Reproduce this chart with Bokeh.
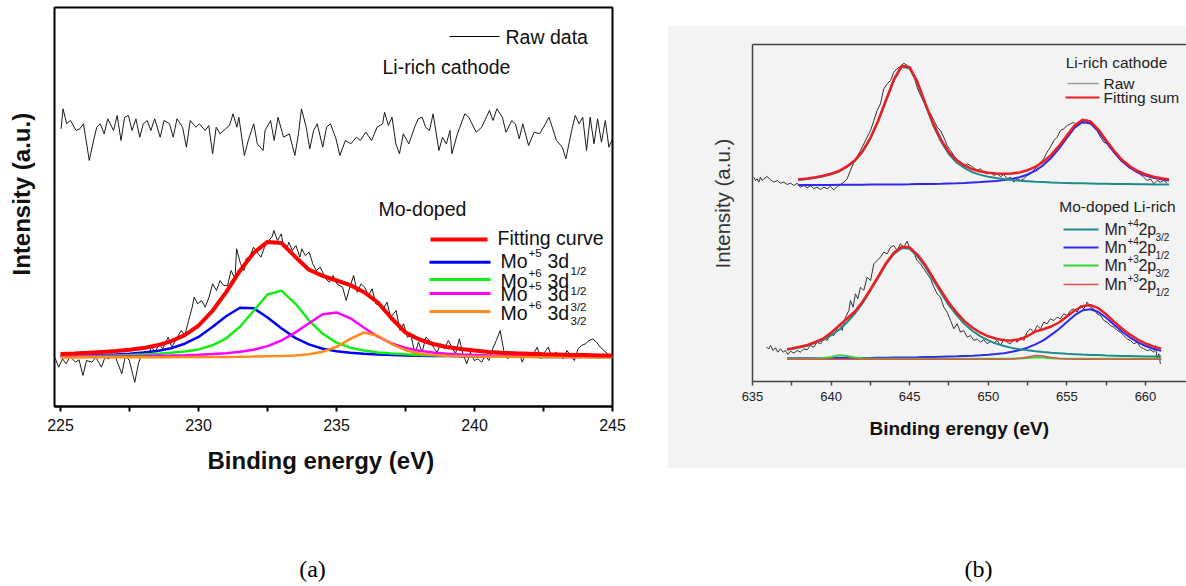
import math
from bokeh.plotting import figure
from bokeh.models import Range1d, FixedTicker, Label, LinearAxis, Spacer, Title
from bokeh.layouts import row, column
from bokeh.embed import file_html
from bokeh.resources import INLINE

# ---------------- Panel (a): Mo 3d ----------------
A_TICKS = [225, 230, 235, 240, 245]
A_MINOR = [227.5, 232.5, 237.5, 242.5]

A_RAW_TOP = [(225.02, 277.7), (225.09, 297.7), (225.22, 282.7), (225.36, 286), (225.56, 276), (225.70, 277.7),
             (225.83, 282.7), (226.04, 246), (226.17, 262.7), (226.31, 279.3), (226.44, 282.7), (226.58, 272.7),
             (226.71, 287.7), (226.92, 276), (227.05, 291), (227.19, 266), (227.32, 289.3), (227.46, 291),
             (227.59, 276), (227.73, 287.7), (227.87, 269.3), (228.00, 282.7), (228.14, 286), (228.27, 276),
             (228.41, 287.7), (228.61, 269.3), (228.75, 286), (228.95, 282.7), (229.08, 269.3), (229.22, 287.7),
             (229.42, 279.3), (229.56, 259.3), (229.70, 286), (229.90, 279.3), (230.03, 282.7), (230.24, 276),
             (230.37, 281), (230.51, 252.7), (230.64, 279.3), (230.78, 272.7), (230.98, 277.7), (231.12, 281),
             (231.25, 292.7), (231.39, 279.3), (231.46, 289.3), (231.66, 251), (231.80, 266), (232.00, 282.7),
             (232.13, 262.7), (232.34, 256), (232.41, 276), (232.61, 286), (232.74, 266), (232.88, 289.3),
             (233.08, 269.3), (233.29, 272.7), (233.49, 251), (233.62, 272.7), (233.73, 297.7), (233.90, 279.3),
             (234.03, 257.7), (234.17, 276), (234.30, 282.7), (234.50, 259.3), (234.64, 279.3), (234.78, 282.7),
             (234.98, 267.7), (235.12, 251), (235.32, 266), (235.52, 262.7), (235.72, 269.3), (235.86, 266),
             (236.06, 274.3), (236.27, 266), (236.47, 279.3), (236.67, 282.7), (236.74, 294.3), (236.88, 281),
             (237.01, 289.3), (237.15, 262.7), (237.28, 252.7), (237.42, 272.7), (237.62, 262.7), (237.83, 279.3),
             (237.96, 287.7), (238.10, 289.3), (238.23, 279.3), (238.37, 276), (238.50, 292.7), (238.71, 256),
             (238.84, 269.3), (238.98, 262.7), (239.11, 276), (239.18, 252.7), (239.38, 272.7), (239.65, 292.7),
             (239.79, 289.3), (240.06, 274.3), (240.26, 279.3), (240.54, 296), (240.67, 286), (240.81, 297.7),
             (241.01, 289.3), (241.14, 274.3), (241.35, 286), (241.48, 282.7), (241.62, 267.7), (241.75, 282.7),
             (241.96, 261), (242.16, 274.3), (242.36, 272.7), (242.57, 282.7), (242.70, 289.3), (242.97, 266),
             (243.18, 259.3), (243.31, 247.7), (243.52, 276), (243.65, 291), (243.79, 282.7), (243.92, 289.3),
             (244.06, 256), (244.19, 289.3), (244.33, 262.7), (244.46, 287.7), (244.60, 264.3), (244.74, 286),
             (244.87, 259.3), (245.00, 268)]

A_RAW_BOT = [(224.80, 48.7), (224.93, 39.3), (225.07, 47.7), (225.20, 42.7), (225.34, 50.0), (225.54, 44.3),
             (225.67, 46.7), (225.81, 31.0), (225.94, 46.0), (226.14, 44.3), (226.28, 49.3), (226.48, 39.3),
             (226.61, 49.3), (226.75, 47.7), (226.95, 52.7), (227.08, 42.7), (227.22, 32.7), (227.35, 51.0),
             (227.49, 46.0), (227.69, 24.3), (227.82, 42.7), (227.96, 54.3), (228.16, 49.3), (228.29, 59.3),
             (228.43, 54.3), (228.56, 62.7), (228.70, 57.7), (228.90, 69.3), (229.03, 59.3), (229.23, 69.3),
             (229.37, 76.0), (229.50, 71.0), (229.64, 86.0), (229.77, 99.3), (229.84, 109.3), (229.97, 102.7),
             (230.11, 106.0), (230.24, 99.3), (230.38, 109.3), (230.51, 122.7), (230.65, 116.0), (230.78, 126.0),
             (230.91, 121.0), (231.05, 121.0), (231.18, 136.0), (231.32, 127.7), (231.38, 157.7), (231.52, 142.7),
             (231.65, 136.0), (231.72, 147.7), (231.85, 149.3), (231.99, 159.3), (232.12, 154.3), (232.26, 149.3),
             (232.39, 159.3), (232.53, 166.0), (232.66, 169.3), (232.73, 176.0), (232.86, 166.0), (233.00, 172.7),
             (233.06, 162.7), (233.20, 157.7), (233.27, 164.3), (233.40, 156.0), (233.53, 161.0), (233.67, 149.3),
             (233.74, 157.7), (233.87, 151.0), (234.01, 154.3), (234.14, 142.7), (234.27, 136.0), (234.41, 139.3),
             (234.61, 127.7), (234.74, 124.3), (234.88, 131.0), (235.01, 122.7), (235.22, 119.3), (235.35, 106.0),
             (235.48, 119.3), (235.62, 131.0), (235.75, 114.3), (235.89, 122.7), (236.02, 119.3), (236.16, 111.0),
             (236.29, 117.7), (236.42, 102.7), (236.56, 101.0), (236.69, 97.7), (236.83, 104.3), (236.96, 89.3),
             (237.16, 96.0), (237.30, 76.0), (237.43, 82.7), (237.57, 69.3), (237.70, 71.0), (237.84, 52.7),
             (237.97, 64.3), (238.10, 54.3), (238.24, 69.3), (238.37, 66.0), (238.51, 59.3), (238.64, 54.3),
             (238.78, 62.7), (238.91, 57.7), (239.05, 66.0), (239.18, 59.3), (239.31, 52.7), (239.45, 67.7),
             (239.58, 52.7), (239.72, 42.7), (239.85, 54.3), (239.99, 46.0), (240.12, 47.7), (240.26, 44.3),
             (240.39, 51.0), (240.52, 46.0), (240.66, 57.7), (240.79, 66.0), (240.93, 76.0), (241.06, 56.0),
             (241.20, 47.7), (241.33, 52.7), (241.46, 51.0), (241.60, 54.3), (241.73, 44.3), (241.87, 54.3),
             (242.00, 51.0), (242.14, 52.7), (242.27, 59.3), (242.41, 47.7), (242.54, 54.3), (242.67, 59.3),
             (242.81, 49.3), (242.94, 54.3), (243.08, 51.0), (243.21, 47.7), (243.35, 56.0), (243.48, 51.0),
             (243.62, 46.0), (243.75, 57.7), (243.88, 61.0), (244.02, 62.7), (244.15, 66.0), (244.29, 67.7),
             (244.42, 64.3), (244.56, 59.3), (244.69, 56.0), (244.83, 52.7)]

A_FIT_E = [225.0, 225.5, 226.0, 226.5, 227.0, 227.5, 228.0, 228.5, 229.0, 229.5,
           230.0, 230.5, 231.0, 231.5, 232.0, 232.5, 233.0, 233.5, 234.0, 234.5,
           235.0, 235.5, 236.0, 236.5, 237.0, 237.5, 238.0, 238.5, 239.0, 239.5,
           240.0, 240.5, 241.0, 241.5, 242.0, 242.5, 243.0, 243.5, 244.0, 244.5, 245.0]
A_FIT_SUM = [52.6, 53.1, 53.8, 54.6, 55.4, 56.7, 58.4, 61.2, 65.2, 71.4,
             80.9, 95.5, 114.4, 135.8, 153.7, 164.6, 163.6, 149.8, 136.8, 130.6,
             126.0, 121.4, 114.3, 104.0, 88.0, 74.0, 67.0, 62.5, 59.5, 57.5,
             56.0, 54.6, 53.8, 53.2, 52.7, 52.2, 51.9, 51.5, 51.4, 51.1, 50.9]
A_MO5_A = [50.6, 50.8, 51.1, 51.6, 52.1, 52.8, 53.9, 55.6, 58.2, 62.8,
           69.6, 79.4, 90.3, 98.7, 98.3, 89.0, 78.2, 68.6, 62.1, 57.8,
           55.3, 53.8, 52.7, 52.0, 51.5, 51.1, 50.8, 50.6, 50.4, 50.2,
           50.1, 50.0, 49.9, 49.8, 49.7, 49.6, 49.6, 49.5, 49.5, 49.4, 49.4]
A_MO6_A = [50.2, 50.4, 50.6, 50.8, 51.0, 51.4, 51.9, 52.6, 53.8, 54.9,
           57.1, 61.2, 68.2, 79.7, 95.7, 112.0, 115.9, 103.2, 86.2, 72.7,
           63.9, 58.8, 55.9, 54.1, 53.0, 52.2, 51.6, 51.2, 50.9, 50.7,
           50.5, 50.3, 50.2, 50.1, 50.0, 49.9, 49.8, 49.7, 49.7, 49.6, 49.6]
A_MO5_B = [49.7, 49.8, 49.9, 50.0, 50.1, 50.3, 50.4, 50.7, 50.9, 51.3,
           51.8, 52.4, 53.3, 54.7, 56.8, 60.4, 66.0, 73.9, 83.2, 92.3,
           94.1, 88.2, 78.7, 69.8, 63.0, 58.5, 55.7, 53.9, 52.8, 52.0,
           51.5, 51.0, 50.8, 50.6, 50.4, 50.2, 50.1, 50.0, 49.9, 49.8, 49.7]
A_MO6_B = [49.1, 49.1, 49.2, 49.2, 49.2, 49.2, 49.2, 49.3, 49.3, 49.4,
           49.4, 49.5, 49.6, 49.7, 49.9, 50.2, 50.5, 51.1, 52.3, 54.8,
           59.7, 67.6, 74.0, 70.7, 62.3, 56.3, 53.0, 51.5, 50.7, 50.3,
           50.0, 49.8, 49.7, 49.6, 49.5, 49.4, 49.4, 49.3, 49.3, 49.3, 49.2]

# ---------------- Panel (b): Mn 2p ----------------
B_TICKS = [635, 640, 645, 650, 655, 660]
B_MINOR = [637.5, 642.5, 647.5, 652.5, 657.5]

B_RAW_TOP = [(635.08, 204.3), (635.19, 201), (635.30, 202.7), (635.40, 199.3), (635.51, 204.3), (635.62, 201),
             (635.72, 202.7), (635.93, 205), (636.15, 201.7), (636.36, 199.3), (636.57, 201), (636.78, 198.3),
             (636.99, 199.3), (637.21, 197), (637.42, 198.3), (637.63, 196), (637.84, 198.3), (638.05, 194.3),
             (638.27, 196), (638.48, 193.7), (638.69, 195.7), (638.90, 193), (639.11, 194.3), (639.33, 192),
             (639.54, 194.3), (639.75, 192.7), (639.96, 195), (640.17, 191.7), (640.39, 195), (640.60, 197),
             (640.81, 199.3), (641.02, 202.7), (641.23, 211), (641.45, 219.3), (641.66, 225), (641.87, 231),
             (642.08, 237.7), (642.29, 244.3), (642.51, 251), (642.72, 261), (642.93, 271), (643.14, 277.7),
             (643.35, 292.7), (643.57, 297.7), (643.78, 301), (643.99, 309.3), (644.20, 312.7), (644.41, 315),
             (644.63, 318.3), (644.84, 316), (645.05, 311), (645.26, 306), (645.47, 294.3), (645.69, 286),
             (645.90, 279.3), (646.11, 272.7), (646.33, 267.7), (646.54, 261), (646.75, 254.3), (646.96, 251),
             (647.17, 244.3), (647.38, 236), (647.60, 231), (647.81, 226), (648.02, 221), (648.23, 219.3),
             (648.44, 214.3), (648.66, 217.7), (648.87, 216), (649.08, 213.7), (649.29, 211), (649.50, 212.7),
             (649.72, 209.3), (649.93, 207.7), (650.14, 209.3), (650.35, 206), (650.56, 207.7), (650.78, 205),
             (650.99, 207), (651.20, 202.7), (651.41, 204.3), (651.62, 199.3), (651.84, 202.7), (652.05, 201),
             (652.26, 202.7), (652.47, 206), (652.68, 207.7), (652.90, 211.7), (653.11, 214.3), (653.32, 219.3),
             (653.53, 222.7), (653.74, 229.3), (653.95, 234.3), (654.17, 241), (654.38, 244.3), (654.59, 251),
             (654.80, 252.7), (655.02, 256), (655.23, 257.7), (655.44, 259.3), (655.65, 256), (655.87, 261),
             (656.08, 257.7), (656.29, 261.7), (656.50, 257.7), (656.71, 254.3), (656.92, 251), (657.14, 244.3),
             (657.35, 239.3), (657.56, 237.7), (657.77, 232.7), (657.99, 231), (658.20, 226), (658.41, 222.7),
             (658.62, 221), (658.83, 216), (659.05, 214.3), (659.26, 211), (659.47, 209.3), (659.68, 207),
             (659.89, 204.3), (660.11, 201), (660.32, 202.7), (660.53, 197.7), (660.74, 201), (660.95, 199.3),
             (661.17, 201), (661.38, 198.3)]

B_RAW_BOT = [(635.89, 34.3), (636.04, 32.7), (636.15, 36), (636.31, 31), (636.46, 33.7), (636.61, 29.3),
             (636.78, 32.7), (636.95, 29.3), (637.10, 31), (637.25, 27), (637.42, 30.3), (637.63, 28.3),
             (637.84, 31), (638.05, 29.3), (638.27, 32.7), (638.48, 31.7), (638.69, 36), (638.90, 34.3),
             (639.11, 39.3), (639.33, 37.7), (639.54, 42.7), (639.75, 41), (639.96, 47.7), (640.17, 46),
             (640.39, 52.7), (640.60, 57.7), (640.70, 51), (640.92, 64.3), (641.13, 71), (641.23, 81),
             (641.40, 74.3), (641.55, 87.7), (641.70, 82.7), (641.87, 94.3), (642.08, 91), (642.29, 104.3),
             (642.51, 101), (642.72, 117.7), (642.93, 121), (643.14, 124.3), (643.35, 129.3), (643.57, 127.7),
             (643.78, 134.3), (643.99, 136), (644.20, 131), (644.41, 137.7), (644.63, 134.3), (644.84, 140.3),
             (645.05, 131), (645.26, 129.3), (645.47, 121), (645.69, 117.7), (645.90, 112.7), (646.11, 107.7),
             (646.33, 102.7), (646.54, 94.3), (646.75, 87.7), (646.96, 84.3), (647.17, 74.3), (647.38, 69.3),
             (647.60, 61), (647.81, 52.7), (648.02, 57.7), (648.23, 49.3), (648.44, 51), (648.66, 44.3),
             (648.87, 46), (649.08, 41), (649.29, 42.7), (649.50, 39.3), (649.72, 41.7), (649.93, 37.7),
             (650.14, 40.3), (650.35, 38.3), (650.56, 41), (650.78, 36), (650.99, 42.7), (651.20, 39.3),
             (651.41, 37.7), (651.62, 42.7), (651.84, 39.3), (652.05, 44.3), (652.26, 41), (652.47, 49.3),
             (652.68, 52.7), (652.90, 49.3), (653.11, 56), (653.32, 52.7), (653.53, 59.3), (653.74, 57.7),
             (653.95, 62.7), (654.17, 61), (654.38, 64.3), (654.59, 62.7), (654.80, 67.7), (655.02, 66),
             (655.23, 71), (655.44, 72.7), (655.65, 69.3), (655.87, 76), (656.08, 72.7), (656.29, 79.3),
             (656.50, 74.3), (656.71, 72.7), (656.92, 67.7), (657.14, 66), (657.35, 61), (657.56, 59.3),
             (657.77, 56), (657.99, 54.3), (658.20, 51), (658.41, 49.3), (658.62, 46), (658.83, 42.7),
             (659.05, 41), (659.26, 37.7), (659.47, 39.3), (659.68, 34.3), (659.89, 32.7), (660.11, 31),
             (660.32, 31.7), (660.53, 29.3), (660.64, 36), (660.74, 22.7), (660.85, 27.7), (660.95, 17.7)]

B_TOP_E = [637.9, 638.5, 639.0, 639.5, 640.0, 640.5, 641.0, 641.5, 642.0, 642.5,
           643.0, 643.5, 644.0, 644.5, 645.0, 645.5, 646.0, 646.5, 647.0, 647.5,
           648.0, 648.5, 649.0, 649.5, 650.0, 650.5, 651.0, 651.5, 652.0, 652.5,
           653.0, 653.5, 654.0, 654.5, 655.0, 655.5, 656.0, 656.5, 657.0, 657.5,
           658.0, 658.5, 659.0, 659.5, 660.0, 660.5, 661.0, 661.5]
B_TOP_MN4_32 = [201.4, 202.6, 203.7, 205.1, 207.2, 209.8, 214.4, 220.2, 229.6, 242.8,
                260.2, 280.7, 301.2, 314.7, 313.0, 298.0, 276.4, 256.0, 239.8, 227.2,
                218.8, 213.4, 209.2, 206.6, 204.8, 203.5, 202.4, 201.5, 200.8, 200.3,
                199.8, 199.4, 199.0, 198.7, 198.5, 198.3, 198.2, 198.0, 197.8, 197.7,
                197.6, 197.5, 197.4, 197.3, 197.2, 197.1, 197.1, 197.0]
B_TOP_MN4_12 = [196.5, 196.5, 196.6, 196.6, 196.6, 196.7, 196.7, 196.8, 196.8, 196.9,
                196.9, 197.0, 197.1, 197.1, 197.2, 197.4, 197.5, 197.6, 197.8, 198.1,
                198.3, 198.6, 199.0, 199.4, 200.0, 200.6, 201.4, 202.6, 204.3, 207.0,
                210.8, 216.4, 223.6, 232.9, 243.5, 253.9, 259.6, 258.1, 250.1, 239.5,
                229.1, 220.2, 213.9, 209.2, 206.0, 203.7, 202.2, 201.1]
B_TOP_SUM = [201.9, 203.1, 204.3, 205.7, 207.8, 210.5, 215.1, 221.0, 230.4, 243.7,
             261.1, 281.7, 302.3, 315.8, 314.2, 299.4, 277.9, 257.6, 241.6, 229.3,
             221.1, 216.0, 212.2, 210.0, 208.8, 208.1, 207.8, 208.1, 209.1, 211.3,
             214.6, 219.8, 226.6, 235.6, 246.0, 256.2, 261.8, 260.1, 251.9, 241.2,
             230.7, 221.7, 215.3, 210.5, 207.2, 204.8, 203.3, 202.1]

B_BOT_E = [637.2, 637.5, 638.0, 638.5, 639.0, 639.5, 640.0, 640.5, 641.0, 641.5,
           642.0, 642.5, 643.0, 643.5, 644.0, 644.5, 645.0, 645.5, 646.0, 646.5,
           647.0, 647.5, 648.0, 648.5, 649.0, 649.5, 650.0, 650.5, 651.0, 651.5,
           652.0, 652.5, 653.0, 653.5, 654.0, 654.5, 655.0, 655.5, 656.0, 656.5,
           657.0, 657.5, 658.0, 658.5, 659.0, 659.5, 660.0, 660.5, 661.0]
B_BOT_MN4_32 = [31.7, 32.5, 34.1, 35.8, 38.6, 41.6, 46.2, 51.6, 59.0, 67.7,
                78.4, 90.9, 103.9, 117.3, 127.5, 133.4, 132.7, 125.1, 114.6, 101.3,
                88.4, 76.1, 66.1, 57.2, 50.5, 45.2, 41.1, 37.9, 35.5, 33.6,
                32.3, 31.2, 30.3, 29.5, 28.8, 28.3, 27.7, 27.3, 26.9, 26.6,
                26.4, 26.0, 25.8, 25.6, 25.5, 25.3, 25.1, 25.0, 24.9]
B_BOT_MN4_12 = [23.2, 23.2, 23.2, 23.3, 23.3, 23.3, 23.4, 23.4, 23.5, 23.5,
                23.6, 23.6, 23.7, 23.8, 23.9, 24.0, 24.1, 24.2, 24.4, 24.6,
                24.8, 25.0, 25.2, 25.5, 25.8, 26.2, 26.7, 27.4, 28.3, 29.7,
                31.4, 33.8, 37.1, 41.1, 46.6, 52.5, 59.6, 66.3, 71.2, 72.3,
                69.5, 63.8, 56.7, 50.0, 44.2, 39.3, 35.5, 32.7, 30.6]
B_BOT_MN3_32 = [22.8, 22.8, 22.8, 22.8, 23.0, 23.4, 24.6, 26.2, 25.6, 24.0,
                23.2, 22.9, 22.8, 22.8, 22.8, 22.8, 22.8, 22.8, 22.8, 22.8,
                22.8, 22.8, 22.8, 22.8, 22.8, 22.8, 22.8, 22.8, 22.8, 22.8,
                23.0, 23.6, 24.3, 24.0, 23.3, 22.9, 22.8, 22.8, 22.8, 22.8,
                22.8, 22.8, 22.8, 22.8, 22.8, 22.8, 22.8, 22.8, 22.8]
B_BOT_MN3_12 = [22.3, 22.3, 22.3, 22.3, 22.3, 22.3, 22.3, 22.3, 22.3, 22.3,
                22.3, 22.3, 22.3, 22.3, 22.3, 22.3, 22.3, 22.3, 22.3, 22.3,
                22.3, 22.3, 22.3, 22.3, 22.3, 22.3, 22.3, 22.3, 22.3, 22.6,
                23.2, 24.6, 26.0, 25.4, 24.0, 23.0, 22.6, 22.3, 22.3, 22.3,
                22.3, 22.3, 22.3, 22.3, 22.3, 22.3, 22.3, 22.3, 22.3]
B_BOT_SUM = [32.3, 33.1, 34.7, 36.5, 39.5, 42.9, 48.8, 55.8, 62.7, 69.8,
             79.8, 92.0, 105.0, 118.5, 128.8, 134.8, 134.2, 126.7, 116.4, 103.3,
             90.6, 78.5, 68.7, 60.1, 53.7, 48.8, 45.2, 42.7, 41.2, 41.0,
             42.2, 45.5, 50.0, 52.3, 55.0, 59.0, 65.0, 71.0, 75.5, 76.3,
             73.3, 67.2, 59.9, 53.0, 47.1, 42.0, 38.0, 35.1, 32.9]

SANS = "Liberation Sans"
SERIF = "Liberation Serif"
GREY = "#f3f3f3"


def xs(pairs):
    return [p[0] for p in pairs]


def ys(pairs):
    return [p[1] for p in pairs]


def txt(p, x, y, s, size, bold=False, align="left", angle=0.0, color="#111111", font=SANS):
    p.add_layout(Label(x=x, y=y, text=s, text_font=font, text_font_size=f"{size}px",
                       text_font_style="bold" if bold else "normal", text_align=align,
                       text_baseline="middle", angle=angle, text_color=color))


def side_title(p, s, side, size, bold, offset, standoff, color="#111111"):
    p.add_layout(Title(text=s, align="left", vertical_align="middle", offset=offset, standoff=standoff,
                       text_font=SANS, text_font_size=f"{size}px",
                       text_font_style="bold" if bold else "normal", text_color=color), side)


# page-pixel -> data helpers (annotation placement only)
def ax(px):
    return 225 + (px - 60) / 27.6


def ay(py):
    return 406 - py


def bx(px):
    return 635 + (px - 752) / 15.72


def by(py):
    return 381 - py


# ================= Figure (a) =================
pa = figure(width=667, height=490, x_range=Range1d(224.78, 245), y_range=Range1d(0, 399),
            output_backend="svg", toolbar_location=None,
            min_border_left=54, min_border_right=55, min_border_top=7, min_border_bottom=84)
pa.grid.visible = False
pa.outline_line_color = "black"
pa.outline_line_width = 2
pa.background_fill_color = "white"
pa.border_fill_color = "white"
# left axis kept invisible: it only reserves room between the frame and the y title
yl = pa.left[0]
yl.ticker = FixedTicker(ticks=[200])
yl.major_label_overrides = {200: ""}
yl.axis_line_color = None
yl.major_tick_line_color = None
yl.minor_tick_line_color = None
yl.major_tick_out = 18
yl.major_tick_in = 0
yl.minor_tick_out = 0
yl.minor_tick_in = 0
yl.major_label_standoff = 0

xa = pa.below[0]
xa.ticker = FixedTicker(ticks=A_TICKS, minor_ticks=A_MINOR)
xa.axis_line_width = 2
xa.axis_line_color = "black"
xa.major_tick_out = 5
xa.major_tick_in = 0
xa.minor_tick_out = 5
xa.minor_tick_in = 0
xa.major_tick_line_width = 2
xa.minor_tick_line_width = 2
xa.minor_tick_line_color = "black"
xa.major_label_text_font = SANS
xa.major_label_text_font_size = "16px"
xa.major_label_text_color = "#111111"
xa.major_label_standoff = 7

pa.line(xs(A_RAW_TOP), ys(A_RAW_TOP), line_color="#1a1a1a", line_width=1)
pa.line(xs(A_RAW_BOT), ys(A_RAW_BOT), line_color="#1a1a1a", line_width=1)
pa.line(A_FIT_E, A_MO5_A, line_color="#0000ff", line_width=2.5)
pa.line(A_FIT_E, A_MO6_A, line_color="#11ee11", line_width=2.5)
pa.line(A_FIT_E, A_MO5_B, line_color="#ff00ff", line_width=2.5)
pa.line(A_FIT_E, A_MO6_B, line_color="#ff8c1a", line_width=2.5)
pa.line(A_FIT_E, A_FIT_SUM, line_color="#ff0000", line_width=4)

# legend / annotations (a)
pa.line([ax(449), ax(499)], [ay(36), ay(36)], line_color="black", line_width=1)
txt(pa, ax(505), ay(36), "Raw data", 19.5)
txt(pa, ax(382), ay(66), "Li-rich cathode", 19.5)
txt(pa, ax(378), ay(208), "Mo-doped", 19.5)
pa.line([ax(430), ax(487)], [ay(239), ay(239)], line_color="#ff0000", line_width=4)
txt(pa, ax(497), ay(237), "Fitting curve", 19.5)
legA = [("#0000ff", 261.7, 260, "+5", "1/2", 270),
        ("#11ee11", 279, 280, "+6", "1/2", 290),
        ("#ff00ff", 293, 293, "+5", "3/2", 306),
        ("#ff8c1a", 311, 312, "+6", "3/2", 320)]
for col, ly, ty, sup, sub, suby in legA:
    pa.line([ax(429), ax(490)], [ay(ly), ay(ly)], line_color=col, line_width=3)
    txt(pa, ax(500), ay(ty), "Mo", 19.5)
    txt(pa, ax(528), ay(ty - 8), sup, 11.5)
    txt(pa, ax(547), ay(ty), "3d", 19.5)
    txt(pa, ax(570), ay(suby), sub, 11.5)
side_title(pa, "Intensity (a.u.)", "left", 24, True, offset=131, standoff=2)
side_title(pa, "Binding energy (eV)", "below", 24, True, offset=153, standoff=24)

# ================= Figure (b) =================
pb = figure(width=519, height=443, x_range=Range1d(635, 662.61), y_range=Range1d(0, 337),
            output_backend="svg", toolbar_location=None,
            min_border_left=85, min_border_right=0, min_border_top=19, min_border_bottom=87)
pb.grid.visible = False
pb.outline_line_color = None
pb.background_fill_color = GREY
pb.border_fill_color = GREY
xb = pb.below[0]
ya = pb.left[0]
ya.ticker = FixedTicker(ticks=[])
ya.axis_line_color = "#444444"
ya.axis_line_width = 1.5
ya.major_tick_out = 0
ya.minor_tick_out = 0
ya.major_label_standoff = 0
top_axis = LinearAxis(ticker=FixedTicker(ticks=[]), axis_line_color="#444444", axis_line_width=1.5,
                      major_tick_out=0, major_tick_in=0, minor_tick_out=0, minor_tick_in=0,
                      major_label_standoff=0)
pb.add_layout(top_axis, "above")
xb.ticker = FixedTicker(ticks=B_TICKS, minor_ticks=B_MINOR)
xb.axis_line_color = "#444444"
xb.axis_line_width = 1.5
xb.major_tick_out = 4
xb.major_tick_in = 0
xb.minor_tick_out = 4
xb.minor_tick_in = 0
xb.major_tick_line_color = "#444444"
xb.minor_tick_line_color = "#444444"
xb.major_tick_line_width = 1.5
xb.minor_tick_line_width = 1.5
xb.major_label_text_font = SANS
xb.major_label_text_font_size = "13px"
xb.major_label_text_color = "#222222"
xb.major_label_standoff = 6

TEAL = "#1e8c8c"
BLUE_B = "#2b2bef"
GREEN_B = "#33d633"
RED_THIN = "#e0524a"
RED_SUM = "#ee1d23"

pb.line(xs(B_RAW_TOP), ys(B_RAW_TOP), line_color="#333333", line_width=1)
pb.line(xs(B_RAW_BOT), ys(B_RAW_BOT), line_color="#333333", line_width=1)
pb.line(B_TOP_E, B_TOP_MN4_12, line_color=BLUE_B, line_width=2)
pb.line(B_TOP_E, B_TOP_MN4_32, line_color=TEAL, line_width=2)
pb.line(B_TOP_E, B_TOP_SUM, line_color=RED_SUM, line_width=2.5)
pb.line(B_BOT_E, B_BOT_MN4_12, line_color=BLUE_B, line_width=2)
pb.line(B_BOT_E, B_BOT_MN4_32, line_color=TEAL, line_width=2)
pb.line(B_BOT_E, B_BOT_MN3_32, line_color=GREEN_B, line_width=2)
pb.line(B_BOT_E, B_BOT_MN3_12, line_color=RED_THIN, line_width=1.5)
pb.line(B_BOT_E, B_BOT_SUM, line_color=RED_SUM, line_width=2.5)

# legend / annotations (b)
txt(pb, bx(1116), by(62), "Li-rich cathode", 15.5, align="center", color="#222222")
pb.line([bx(1067), bx(1098)], [by(83), by(83)], line_color="#999999", line_width=1.5)
txt(pb, bx(1103), by(83), "Raw", 15.5, color="#222222")
pb.line([bx(1065), bx(1099)], [by(97), by(97)], line_color=RED_SUM, line_width=2)
txt(pb, bx(1103), by(97), "Fitting sum", 15.5, color="#222222")
txt(pb, bx(1117), by(206), "Mo-doped Li-rich", 15.5, align="center", color="#222222")
legB = [(TEAL, 229, "+4", "3/2", 2), (BLUE_B, 247, "+4", "1/2", 2),
        (GREEN_B, 265, "+3", "3/2", 2), (RED_THIN, 284, "+3", "1/2", 1.5)]
for col, ly, sup, sub, lw in legB:
    pb.line([bx(1063), bx(1098)], [by(ly), by(ly)], line_color=col, line_width=lw)
    txt(pb, bx(1104), by(ly), "Mn", 16, color="#222222")
    txt(pb, bx(1127), by(ly - 7), sup, 10, color="#222222")
    txt(pb, bx(1138), by(ly), "2p", 16, color="#222222")
    txt(pb, bx(1155), by(ly + 8), sub, 10, color="#222222")
side_title(pb, "Intensity (a.u.)", "left", 20.5, False, offset=113, standoff=36, color="#333333")
side_title(pb, "Binding erengy (eV)", "below", 19, True, offset=117, standoff=27)

# ================= captions =================
pc = figure(width=1186, height=96, x_range=Range1d(0, 1186), y_range=Range1d(0, 96),
            output_backend="svg", toolbar_location=None, x_axis_location=None, y_axis_location=None,
            min_border=0)
pc.grid.visible = False
pc.outline_line_color = None
txt(pc, 312, 18, "(a)", 24, align="center", font=SERIF, color="#000000")
txt(pc, 978, 18, "(b)", 24, align="center", font=SERIF, color="#000000")

layout = column(row(pa, column(Spacer(width=519, height=25), pb)), pc)
open("out.html", "w").write(file_html(layout, INLINE))
